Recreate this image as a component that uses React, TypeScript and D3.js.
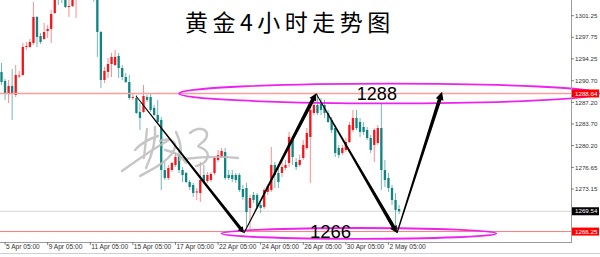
import React from 'react';
import * as d3 from 'd3';

// Gold (XAU/USD) 4-hour candles, one entry per bar, oldest first
const opens = [
  1292.13, 1290.67, 1288.72, 1289.86, 1288.40, 1291.40, 1291.64, 1296.18, 1296.18, 1296.83,
  1301.04, 1297.96, 1297.48, 1298.77, 1299.10, 1301.69, 1305.42, 1305.10, 1304.61, 1302.66,
  1302.83, 1303.96, 1305.42, 1306.23, 1307.04, 1306.23, 1305.42, 1304.29, 1298.61, 1290.83,
  1292.13, 1293.42, 1293.26, 1294.72, 1292.77, 1291.31, 1290.50, 1287.91, 1287.91, 1285.64,
  1285.64, 1288.07, 1288.07, 1286.29, 1285.15, 1284.34, 1276.23, 1274.94, 1276.23, 1277.05,
  1278.67, 1276.23, 1275.75, 1274.29, 1273.80, 1272.59, 1272.50, 1275.42, 1274.45, 1274.61,
  1275.75, 1277.86, 1278.34, 1279.15, 1275.42, 1275.42, 1275.42, 1275.42, 1273.15, 1273.32,
  1270.07, 1272.18, 1272.18, 1270.56, 1270.24, 1272.67, 1272.99, 1277.05, 1275.75, 1275.75,
  1276.56, 1277.37, 1281.10, 1277.53, 1277.05, 1278.18, 1279.80, 1281.59, 1285.48, 1286.77,
  1287.26, 1286.77, 1285.48, 1284.34, 1283.04, 1279.80, 1278.99, 1279.48, 1280.77, 1282.72,
  1284.67, 1284.02, 1283.21, 1282.72, 1281.42, 1280.29, 1280.61, 1283.04, 1276.23, 1274.94,
  1273.32, 1271.37, 1269.91,
];
const highs = [
  1293.58, 1290.99, 1290.83, 1292.61, 1293.26, 1292.29, 1296.83, 1296.99, 1297.48, 1303.48,
  1301.21, 1298.45, 1300.07, 1299.75, 1302.18, 1305.42, 1306.23, 1305.75, 1305.42, 1304.61,
  1305.10, 1305.75, 1306.72, 1307.37, 1307.69, 1306.72, 1306.07, 1304.61, 1298.77, 1292.94,
  1294.40, 1295.21, 1295.69, 1295.21, 1293.26, 1291.96, 1291.64, 1288.72, 1288.40, 1287.10,
  1290.02, 1288.40, 1288.56, 1286.77, 1287.59, 1284.83, 1277.53, 1277.05, 1277.53, 1278.99,
  1279.80, 1276.72, 1275.91, 1274.61, 1274.13, 1273.32, 1277.53, 1277.05, 1275.91, 1275.91,
  1278.34, 1279.48, 1279.80, 1279.80, 1276.23, 1276.23, 1275.75, 1275.75, 1273.80, 1274.13,
  1272.18, 1272.67, 1272.50, 1270.88, 1273.32, 1273.96, 1279.96, 1277.53, 1276.56, 1278.34,
  1277.86, 1282.40, 1281.42, 1278.18, 1278.67, 1281.10, 1283.04, 1286.45, 1287.59, 1288.64,
  1287.91, 1287.59, 1285.96, 1284.83, 1283.53, 1280.29, 1280.29, 1281.42, 1284.02, 1285.96,
  1285.96, 1284.67, 1284.02, 1283.21, 1281.91, 1283.04, 1283.53, 1287.10, 1277.86, 1275.75,
  1273.80, 1272.50, 1270.56,
];
const lows = [
  1290.02, 1287.59, 1287.10, 1284.34, 1288.07, 1291.15, 1291.48, 1295.69, 1296.02, 1296.50,
  1296.18, 1296.67, 1297.31, 1297.64, 1296.83, 1301.53, 1302.99, 1303.31, 1302.50, 1301.04,
  1302.66, 1300.88, 1304.29, 1304.61, 1305.75, 1304.77, 1303.52, 1294.56, 1289.53, 1290.34,
  1291.15, 1291.31, 1293.10, 1291.15, 1290.83, 1290.34, 1287.59, 1287.59, 1285.30, 1282.72,
  1285.48, 1287.26, 1285.64, 1285.00, 1283.86, 1272.99, 1274.61, 1274.61, 1275.91, 1276.72,
  1275.75, 1274.29, 1274.13, 1272.99, 1271.86, 1271.37, 1271.05, 1274.13, 1274.13, 1274.29,
  1275.42, 1277.53, 1278.18, 1274.61, 1274.61, 1274.29, 1274.13, 1272.67, 1271.37, 1266.18,
  1266.34, 1270.88, 1269.91, 1269.26, 1269.91, 1272.18, 1272.67, 1273.32, 1273.32, 1275.10,
  1276.23, 1276.72, 1277.05, 1276.23, 1276.72, 1277.86, 1279.48, 1274.13, 1285.15, 1285.15,
  1285.15, 1284.67, 1283.86, 1282.23, 1278.34, 1278.18, 1278.67, 1279.15, 1280.61, 1282.40,
  1282.72, 1281.59, 1281.91, 1281.10, 1278.99, 1277.53, 1280.29, 1272.99, 1273.48, 1272.67,
  1270.56, 1266.18, 1269.10,
];
const closes = [
  1290.50, 1288.72, 1289.86, 1288.72, 1291.64, 1291.56, 1296.18, 1296.34, 1296.99, 1301.04,
  1297.80, 1296.99, 1298.61, 1299.10, 1301.53, 1304.61, 1304.12, 1303.80, 1302.66, 1302.83,
  1304.61, 1305.42, 1306.23, 1307.04, 1306.23, 1305.42, 1304.29, 1298.61, 1290.83, 1292.29,
  1293.42, 1294.56, 1294.56, 1292.77, 1291.31, 1290.50, 1287.91, 1288.07, 1285.48, 1284.67,
  1288.23, 1287.59, 1285.96, 1285.15, 1284.02, 1276.23, 1274.94, 1276.56, 1277.37, 1278.34,
  1276.23, 1275.42, 1274.29, 1273.48, 1272.50, 1272.75, 1274.61, 1274.29, 1275.42, 1275.59,
  1278.18, 1278.67, 1279.32, 1274.94, 1274.94, 1274.78, 1274.61, 1272.99, 1271.86, 1269.42,
  1271.69, 1271.37, 1270.24, 1270.07, 1272.99, 1273.64, 1277.05, 1275.42, 1274.29, 1276.72,
  1277.05, 1281.59, 1278.34, 1276.72, 1277.86, 1280.29, 1282.23, 1285.96, 1286.77, 1285.48,
  1285.96, 1285.48, 1284.02, 1282.72, 1278.99, 1278.67, 1279.80, 1280.77, 1283.53, 1284.67,
  1283.04, 1282.40, 1282.40, 1281.42, 1279.48, 1282.72, 1283.04, 1276.23, 1274.61, 1273.32,
  1271.37, 1269.75, 1269.54,
];

// Time axis: bar index of each labelled session and its text
const dateTickBars = [1, 13, 25, 37, 49, 61, 73, 85, 97, 109];
const dateTickLabels = [
  '5 Apr 05:00', '9 Apr 05:00', '11 Apr 05:00', '15 Apr 05:00', '17 Apr 05:00',
  '22 Apr 05:00', '24 Apr 05:00', '26 Apr 05:00', '30 Apr 05:00', '2 May 05:00',
];

// Price axis
const priceTicks = [1301.25, 1297.75, 1294.25, 1290.7, 1287.2, 1283.7, 1280.2, 1276.65, 1273.15];

// Horizontal levels
const resistanceLevel = 1288.64;
const supportLevel = 1266.25;
const lastPrice = 1269.54;
const keyLevelTexts = ['1288', '1266'];

// Swing path drawn as arrows: bar position and price of each turning point
const swingBars = [37.9, 68.3, 88.6, 111.4, 124.1];
const swingPrices = [1288.23, 1266.02, 1288.64, 1266.02, 1288.9];

const TITLE = '黄金4小时走势图';

const W = 600;
const H = 257;
const PLOT_R = 571;
const PLOT_B = 242;

const BULL = '#f4141c';
const BEAR = '#0f8480';
const BULL_WICK = '#ff8e8e';
const BEAR_WICK = '#72b9b4';

// tapered arrow: thin at the start, thick at the tip, with a filled head
function arrowPath(ax: number, ay: number, bx: number, by: number, w0: number, w1: number, headL: number, headW: number) {
  const dx = bx - ax;
  const dy = by - ay;
  const len = Math.hypot(dx, dy);
  const ux = dx / len;
  const uy = dy / len;
  const nx = -uy;
  const ny = ux;
  const cx = bx - ux * headL;
  const cy = by - uy * headL;
  const pts: [number, number][] = [
    [ax + (nx * w0) / 2, ay + (ny * w0) / 2],
    [cx + (nx * w1) / 2, cy + (ny * w1) / 2],
    [cx + nx * headW, cy + ny * headW],
    [bx, by],
    [cx - nx * headW, cy - ny * headW],
    [cx - (nx * w1) / 2, cy - (ny * w1) / 2],
    [ax - (nx * w0) / 2, ay - (ny * w0) / 2],
  ];
  return 'M' + pts.map((p) => p[0].toFixed(2) + ',' + p[1].toFixed(2)).join('L') + 'Z';
}

// signature watermark strokes
const signatureStrokes = [
  'M122,171 C136,161 151,150 169,140',
  'M135,150 C141,143 149,139 158,136',
  'M147,129 C146,138 145,148 144,158',
  'M155,127 C156,140 152,155 146,168',
  'M160,141 C171,137 179,142 173,152 C167,162 151,170 140,176',
  'M165,150 C175,152 182,156 186,163',
  'M176,132 C180,140 182,150 180,160',
  'M190,133 C200,124 213,131 204,141 C198,146 196,146 202,148 C212,153 208,164 196,166',
  'M184,159 C200,157 220,156 238,158',
];

export default function App() {
  const x = d3.scaleLinear().domain([0, 112]).range([1.5, 399.1]);
  const y = d3.scaleLinear().domain([1273.15, 1301.25]).range([189, 15.7]);

  const bodyW = 2.3;
  const bars = d3.range(opens.length);

  const swingPts = swingBars.map((b, i) => [x(b), y(swingPrices[i])] as [number, number]);
  const arrowSpecs = [
    { w0: 0.9, w1: 3.2, hl: 6, hw: 3.2 },
    { w0: 0.9, w1: 3.8, hl: 7, hw: 3.8 },
    { w0: 0.9, w1: 3.8, hl: 7, hw: 3.8 },
    { w0: 1.2, w1: 3.8, hl: 8, hw: 4 },
  ];

  const yRes = y(resistanceLevel);
  const ySup = y(supportLevel);
  const yLast = y(lastPrice);

  // ellipses circling the two key levels (bar units horizontally, price units vertically)
  const topEll = { cx: x(109.2), rx: x(59.2) - x(0), cy: yRes, ry: y(0) - y(1.6) };
  const botEll = { cx: x(100.7), rx: x(38.7) - x(0), cy: y(1265.95), ry: y(0) - y(0.88) };

  const axisFont = "'Liberation Sans', Arial, sans-serif";

  const boxes = [
    { v: resistanceLevel, fill: '#ff0000' },
    { v: lastPrice, fill: '#000000' },
    { v: supportLevel, fill: '#ff0000' },
  ];

  return (
    <svg width={W} height={H} viewBox={`0 0 ${W} ${H}`} style={{ position: 'absolute', left: 0, top: 0, background: '#fff' }}>
      <defs>
        <clipPath id="plot">
          <rect x={0} y={0} width={PLOT_R} height={PLOT_B} />
        </clipPath>
      </defs>
      <rect x={0} y={0} width={W} height={H} fill="#fff" />

      <g clipPath="url(#plot)">
        {/* last price line */}
        <line x1={0} x2={PLOT_R} y1={yLast} y2={yLast} stroke="#d6d6d6" strokeWidth={1} />

        {/* candles */}
        {bars.map((i) => {
          const up = closes[i] >= opens[i];
          const cx = x(i);
          const top = y(Math.max(opens[i], closes[i]));
          const bot = y(Math.min(opens[i], closes[i]));
          return (
            <g key={i}>
              <line x1={cx} x2={cx} y1={y(highs[i])} y2={y(lows[i])} stroke={up ? BULL_WICK : BEAR_WICK} strokeWidth={1} />
              <rect x={cx - bodyW / 2} y={top} width={bodyW} height={Math.max(1, bot - top)} fill={up ? BULL : BEAR} />
            </g>
          );
        })}

        {/* key horizontal levels */}
        <line x1={0} x2={PLOT_R} y1={yRes} y2={yRes} stroke="#ff9c9c" strokeWidth={1.6} />
        <line x1={0} x2={PLOT_R} y1={ySup} y2={ySup} stroke="#ff7a7a" strokeWidth={1} />

        {/* watermark */}
        <g fill="none" stroke="#bdbdbd" strokeWidth={2.4} strokeLinecap="round" strokeLinejoin="round" opacity={0.85}>
          {signatureStrokes.map((d, i) => (
            <path key={i} d={d} />
          ))}
        </g>
      </g>

      {/* ellipses */}
      <ellipse cx={topEll.cx} cy={topEll.cy} rx={topEll.rx} ry={topEll.ry} fill="none" stroke="#ee22ee" strokeWidth={1.8} />
      <ellipse cx={botEll.cx} cy={botEll.cy} rx={botEll.rx} ry={botEll.ry} fill="none" stroke="#ee22ee" strokeWidth={1.8} />

      {/* swing arrows */}
      <g fill="#000">
        {arrowSpecs.map((s, i) => {
          const [ax, ay] = swingPts[i];
          const [bx, by] = swingPts[i + 1];
          return <path key={i} d={arrowPath(ax, ay, bx, by, s.w0, s.w1, s.hl, s.hw)} />;
        })}
      </g>

      {/* key level annotations */}
      <text x={x(100.1)} y={y(1287.6)} fontFamily={axisFont} fontSize={18} fill="#000">
        {keyLevelTexts[0]}
      </text>
      <text x={x(86.9)} y={y(1265.2)} fontFamily={axisFont} fontSize={18.5} fill="#000">
        {keyLevelTexts[1]}
      </text>

      {/* title */}
      <text x={185} y={30.5} fontFamily="'Noto Sans CJK SC', sans-serif" fontSize={23} letterSpacing={4.5} fill="#000">
        {TITLE}
      </text>

      {/* price axis */}
      <line x1={PLOT_R + 0.5} x2={PLOT_R + 0.5} y1={0} y2={PLOT_B} stroke="#9c9c9c" strokeWidth={1} />
      {priceTicks.map((v) => (
        <g key={v}>
          <line x1={PLOT_R} x2={PLOT_R + 3} y1={y(v)} y2={y(v)} stroke="#666" strokeWidth={0.8} />
          <text x={575} y={y(v)} dy="0.35em" fontFamily={axisFont} fontSize={6.2} fill="#333">
            {v.toFixed(2)}
          </text>
        </g>
      ))}
      {boxes.map((b) => (
        <g key={b.v}>
          <rect x={572} y={y(b.v) - 4} width={27} height={8} fill={b.fill} />
          <text x={575} y={y(b.v)} dy="0.35em" fontFamily={axisFont} fontSize={6.2} fill="#fff">
            {b.v.toFixed(2)}
          </text>
        </g>
      ))}

      {/* time axis */}
      <line x1={0} x2={PLOT_R + 1} y1={PLOT_B + 0.5} y2={PLOT_B + 0.5} stroke="#9c9c9c" strokeWidth={1} />
      {dateTickBars.map((b, i) => (
        <g key={b}>
          <line x1={x(b)} x2={x(b)} y1={PLOT_B} y2={PLOT_B + 3} stroke="#666" strokeWidth={0.8} />
          <text x={x(b) + 1} y={248.7} fontFamily={axisFont} fontSize={6.6} fill="#333">
            {dateTickLabels[i]}
          </text>
        </g>
      ))}
      <line x1={0} x2={W} y1={253.5} y2={253.5} stroke="#cfcfcf" strokeWidth={1} />
    </svg>
  );
}
